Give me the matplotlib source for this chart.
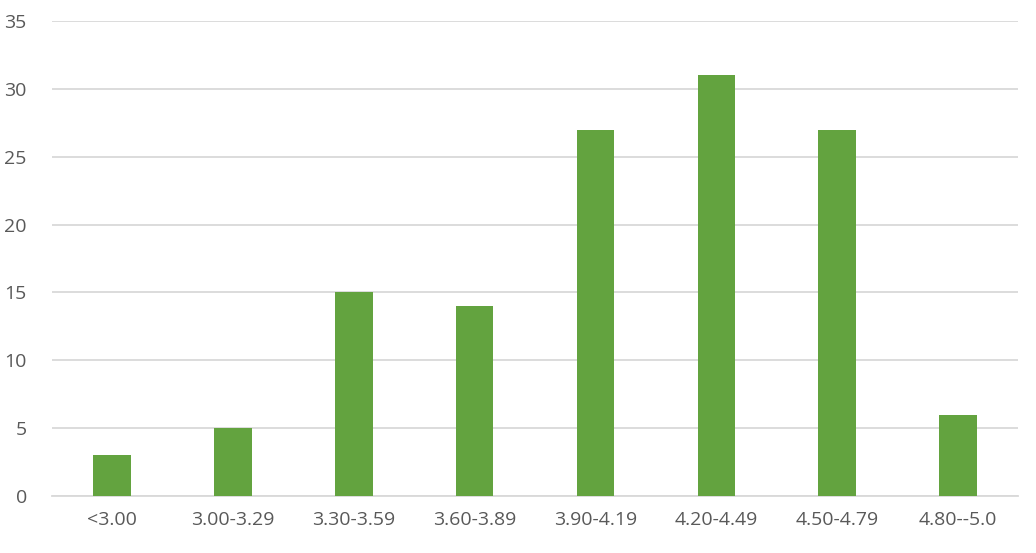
import numpy as np
import matplotlib.pyplot as plt

# score ranges and counts
categories = ['<3.00', '3.00-3.29', '3.30-3.59', '3.60-3.89',
              '3.90-4.19', '4.20-4.49', '4.50-4.79', '4.80--5.0']
counts = [3, 5, 15, 14, 27, 31, 27, 6]
yticks = [0, 5, 10, 15, 20, 25, 30, 35]

plt.rcParams['font.family'] = ['Open Sans', 'DejaVu Sans']

fig = plt.figure(figsize=(10.36, 5.53), dpi=100)
ax = fig.add_axes([0.050, 0.103, 0.933, 0.859])

x = np.arange(len(categories))
ax.bar(x, counts, width=0.31, color='#63A33F', zorder=3)

ax.set_xlim(-0.5, len(categories) - 0.5)
ax.set_ylim(0, 35)
ax.set_yticks(yticks)
ax.set_xticks(x)
ax.set_xticklabels(categories)
ax.grid(axis='y', color='#D9D9D9', linewidth=1.3, zorder=0)
ax.set_axisbelow(True)

for s in ['top', 'right', 'left']:
    ax.spines[s].set_visible(False)
ax.spines['bottom'].set_color('#D9D9D9')
ax.spines['bottom'].set_linewidth(1.3)
ax.tick_params(length=0, labelsize=14, labelcolor='#595959')
ax.tick_params(axis='y', pad=18)
ax.tick_params(axis='x', pad=11)

fig.savefig('out.png', dpi=100)
